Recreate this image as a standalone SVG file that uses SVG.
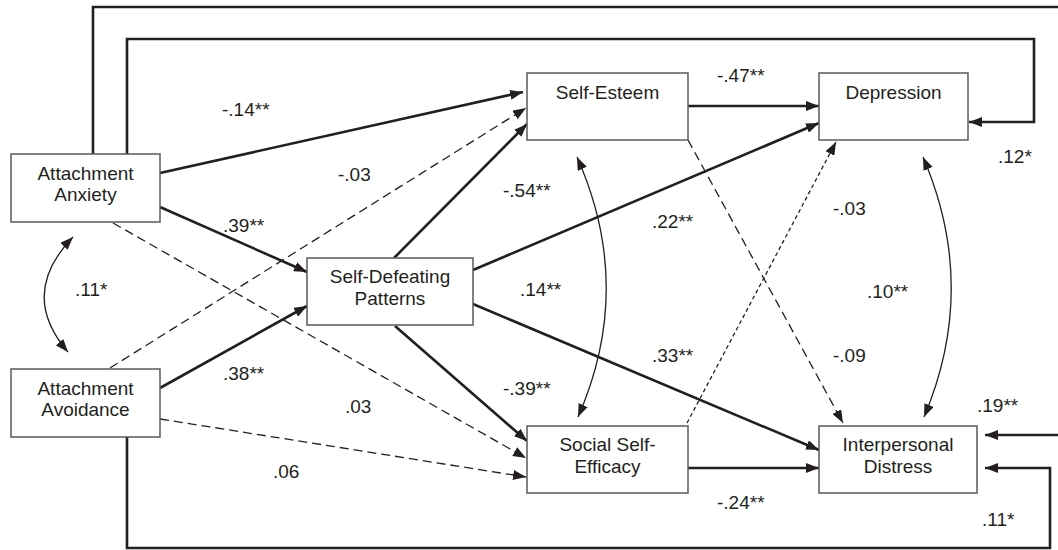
<svg xmlns="http://www.w3.org/2000/svg" width="1058" height="550" viewBox="0 0 1058 550">
<style>
text{font-family:"Liberation Sans",Arial,sans-serif;font-size:19px;fill:#231f20}
.nt{text-anchor:middle}
.box{fill:#fff;stroke:#5a5a5c;stroke-width:1.5}
.s{fill:none;stroke:#231f20;stroke-width:2.6}
.d{fill:none;stroke:#231f20;stroke-width:1.3;stroke-dasharray:9 5}
.ds{fill:none;stroke:#231f20;stroke-width:1.3;stroke-dasharray:4 3}
.c{fill:none;stroke:#231f20;stroke-width:1.3}
</style>
<defs>
<marker id="ah" markerUnits="userSpaceOnUse" viewBox="0 0 13 10" refX="13" refY="5" markerWidth="13" markerHeight="10" orient="auto-start-reverse">
<path d="M0,0 L13,5 L0,10 z" fill="#231f20"/>
</marker>
</defs>
<g id="connectors">
<path class="s" d="M93,154 V7 H1058"/>
<path class="s" d="M127,154 V39 H1034 V122 H969" marker-end="url(#ah)"/>
<path class="s" d="M127,437 V548 H1050 V468 H985" marker-end="url(#ah)"/>
<path class="s" d="M1058,435 H985" marker-end="url(#ah)"/>
<line class="s" x1="160" y1="173" x2="523" y2="92" marker-end="url(#ah)"/>
<line class="d" x1="110" y1="368" x2="526" y2="108" marker-end="url(#ah)"/>
<line class="s" x1="160" y1="207" x2="307" y2="272" marker-end="url(#ah)"/>
<line class="d" x1="113" y1="223" x2="526" y2="458" marker-end="url(#ah)"/>
<line class="d" x1="160" y1="419" x2="526" y2="477" marker-end="url(#ah)"/>
<line class="s" x1="160" y1="388" x2="307" y2="306" marker-end="url(#ah)"/>
<line class="s" x1="394" y1="258" x2="527" y2="124" marker-end="url(#ah)"/>
<line class="s" x1="473" y1="270" x2="819" y2="123" marker-end="url(#ah)"/>
<line class="s" x1="473" y1="304" x2="819" y2="450" marker-end="url(#ah)"/>
<line class="s" x1="395" y1="326" x2="527" y2="441" marker-end="url(#ah)"/>
<line class="s" x1="688" y1="106" x2="819" y2="106" marker-end="url(#ah)"/>
<line class="d" x1="688" y1="140" x2="843" y2="423" marker-end="url(#ah)"/>
<line class="ds" x1="687" y1="423" x2="836" y2="142" marker-end="url(#ah)"/>
<line class="s" x1="688" y1="468" x2="819" y2="468" marker-end="url(#ah)"/>
<path class="c" d="M73,237 Q18,294 68,352" marker-start="url(#ah)" marker-end="url(#ah)"/>
<path class="c" d="M577,157 Q635,287 578,417" marker-start="url(#ah)" marker-end="url(#ah)"/>
<path class="c" d="M923,157 Q979,287 924,417" marker-start="url(#ah)" marker-end="url(#ah)"/>
</g>
<g id="labels">
<text x="222" y="116">-.14**</text>
<text x="338" y="181">-.03</text>
<text x="223" y="232">.39**</text>
<text x="75" y="296">.11*</text>
<text x="223" y="380">.38**</text>
<text x="345" y="413">.03</text>
<text x="273" y="478">.06</text>
<text x="717" y="82">-.47**</text>
<text x="503" y="197">-.54**</text>
<text x="652" y="228">.22**</text>
<text x="520" y="296">.14**</text>
<text x="652" y="362">.33**</text>
<text x="503" y="395">-.39**</text>
<text x="833" y="215">-.03</text>
<text x="867" y="298">.10**</text>
<text x="833" y="362">-.09</text>
<text x="717" y="509">-.24**</text>
<text x="998" y="163">.12*</text>
<text x="977" y="412">.19**</text>
<text x="982" y="526">.11*</text>
</g>
<g id="attachment-anxiety">
<rect class="box" x="11" y="154" width="149" height="68"/>
<text class="nt" x="85.5" y="180">Attachment</text>
<text class="nt" x="85.5" y="201">Anxiety</text>
</g>
<g id="attachment-avoidance">
<rect class="box" x="11" y="369" width="149" height="68"/>
<text class="nt" x="85.5" y="395">Attachment</text>
<text class="nt" x="85.5" y="416">Avoidance</text>
</g>
<g id="self-defeating-patterns">
<rect class="box" x="307" y="258" width="166" height="67"/>
<text class="nt" x="390" y="283">Self-Defeating</text>
<text class="nt" x="390" y="305">Patterns</text>
</g>
<g id="self-esteem">
<rect class="box" x="527" y="73" width="161" height="67"/>
<text class="nt" x="607.5" y="99">Self-Esteem</text>
</g>
<g id="depression">
<rect class="box" x="819" y="73" width="149" height="67"/>
<text class="nt" x="893.5" y="99">Depression</text>
</g>
<g id="social-self-efficacy">
<rect class="box" x="527" y="426" width="161" height="67"/>
<text class="nt" x="607.5" y="451">Social Self-</text>
<text class="nt" x="607.5" y="473">Efficacy</text>
</g>
<g id="interpersonal-distress">
<rect class="box" x="819" y="426" width="158" height="67"/>
<text class="nt" x="898" y="451">Interpersonal</text>
<text class="nt" x="898" y="473">Distress</text>
</g>
</svg>
